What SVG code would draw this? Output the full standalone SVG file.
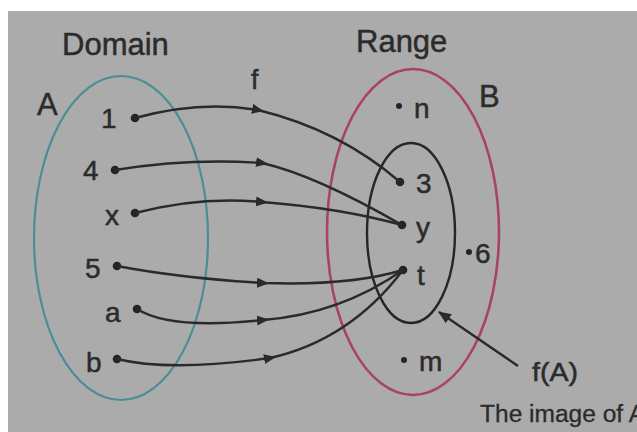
<svg xmlns="http://www.w3.org/2000/svg" width="637" height="432" viewBox="0 0 637 432">
<defs>
<style>
.lbl{font-family:"Liberation Sans",Arial,sans-serif;fill:#2b2b2b;stroke:#2b2b2b;stroke-width:0.5;}
.big{font-size:31px;}
.pt{font-size:28px;}
.conn{fill:none;stroke:#2a2a2a;stroke-width:2.4;}
.dot{fill:#242424;}
</style>
<marker id="mid" viewBox="0 0 12 10" refX="6" refY="5" markerWidth="12" markerHeight="10" markerUnits="userSpaceOnUse" orient="auto">
<path d="M0,0 L12,5 L0,10 Z" fill="#2a2a2a"/>
</marker>
<marker id="head" viewBox="0 0 12 10" refX="11" refY="5" markerWidth="13" markerHeight="11" markerUnits="userSpaceOnUse" orient="auto">
<path d="M0,0 L12,5 L0,10 Z" fill="#2a2a2a"/>
</marker>
</defs>
<rect x="0" y="0" width="637" height="432" fill="#ffffff"/>
<rect x="8" y="11" width="629" height="421" fill="#ababab"/>

<text class="lbl big" x="62" y="55">Domain</text>
<text class="lbl big" x="356" y="52">Range</text>

<g id="setA">
<ellipse cx="121" cy="238" rx="87" ry="162" fill="none" stroke="#4a8d98" stroke-width="2.2"/>
<text class="lbl big" x="37" y="115">A</text>
</g>
<g id="setB">
<ellipse cx="413" cy="232" rx="86" ry="163" fill="none" stroke="#a8445e" stroke-width="2.6"/>
<text class="lbl big" x="479" y="107">B</text>
</g>
<g id="fA">
<ellipse cx="411" cy="233" rx="44" ry="90" fill="none" stroke="#262626" stroke-width="2.4"/>
</g>

<g id="n1"><circle class="dot" cx="135" cy="118" r="4.3"/><text class="lbl pt" x="101" y="128">1</text></g>
<g id="n4"><circle class="dot" cx="115" cy="170" r="4.3"/><text class="lbl pt" x="83" y="180">4</text></g>
<g id="nx"><circle class="dot" cx="135" cy="213" r="4.3"/><text class="lbl pt" x="105" y="225">x</text></g>
<g id="n5"><circle class="dot" cx="117" cy="266" r="4.3"/><text class="lbl pt" x="85" y="278">5</text></g>
<g id="na"><circle class="dot" cx="137" cy="309" r="4.3"/><text class="lbl pt" x="105" y="322">a</text></g>
<g id="nb"><circle class="dot" cx="117" cy="359" r="4.3"/><text class="lbl pt" x="86" y="372">b</text></g>

<g id="rn"><circle class="dot" cx="399" cy="106" r="3"/><text class="lbl pt" x="414" y="118">n</text></g>
<g id="r3"><circle class="dot" cx="400" cy="182" r="4.3"/><text class="lbl pt" x="416" y="193">3</text></g>
<g id="ry"><circle class="dot" cx="402" cy="225" r="4.3"/><text class="lbl pt" x="416" y="237">y</text></g>
<g id="rt"><circle class="dot" cx="403" cy="270" r="4.3"/><text class="lbl pt" x="417" y="285">t</text></g>
<g id="r6"><circle class="dot" cx="469" cy="252" r="3"/><text class="lbl pt" x="475" y="263">6</text></g>
<g id="rm"><circle class="dot" cx="404" cy="360" r="3"/><text class="lbl pt" x="419" y="371">m</text></g>

<g id="connectors">
<path class="conn" marker-mid="url(#mid)" d="M135,118 Q200,100 258,110 Q340,130 400,182"/>
<path class="conn" marker-mid="url(#mid)" d="M115,170 Q190,158 262,163 Q315,175 402,225"/>
<path class="conn" marker-mid="url(#mid)" d="M135,213 Q200,196 262,202 Q340,208 402,225"/>
<path class="conn" marker-mid="url(#mid)" d="M117,266 Q180,278 263,283 Q350,286 403,270"/>
<path class="conn" marker-mid="url(#mid)" d="M137,309 Q170,330 263,320 Q340,314 403,270"/>
<path class="conn" marker-mid="url(#mid)" d="M117,359 Q170,372 270,358 Q350,340 403,270"/>
<path class="conn" stroke-width="2" marker-end="url(#head)" d="M518,366 L439,312"/>
</g>

<text class="lbl" x="251" y="89" style="font-size:27px">f</text>
<text class="lbl" x="532" y="381" style="font-size:25px" textLength="46" lengthAdjust="spacingAndGlyphs">f(A)</text>
<text class="lbl" x="480" y="422" style="font-size:23px;stroke-width:0.3" textLength="165" lengthAdjust="spacingAndGlyphs">The image of A</text>
</svg>
